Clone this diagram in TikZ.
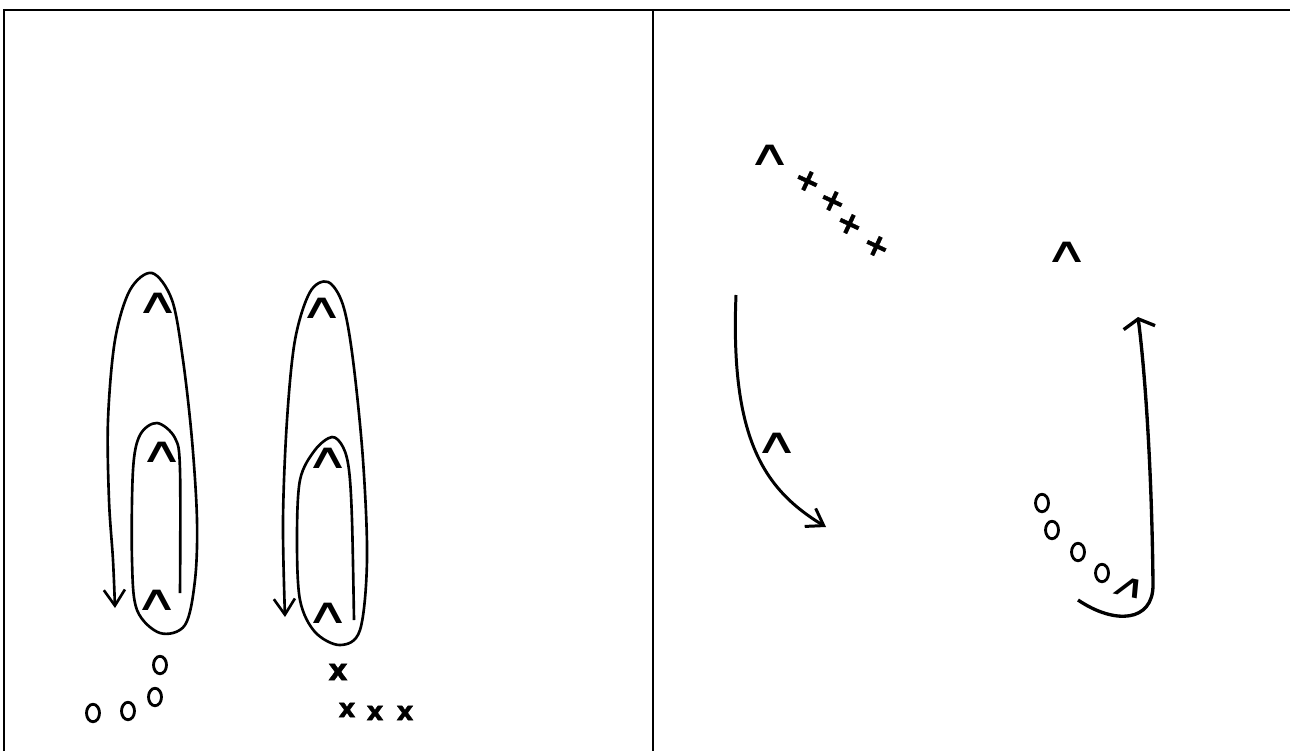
\documentclass[tikz,border=0pt]{standalone}
\usepackage{fontspec}
\newfontfamily\markfont[FakeBold=1.5]{DejaVu Sans}
\newfontfamily\hatfont{DejaVu Sans}
\newcommand\crossmark{\raisebox{0pt}[0.56em][-0.16em]{\makebox[0.45em]{+}}}
\usetikzlibrary{arrows.meta,shapes.geometric}
\begin{document}
\begin{tikzpicture}[x=0.02cm, y=-0.02cm, line width=1.5pt,
  frame/.style={line width=1.2pt},
  hat/.style={inner sep=0pt, xscale=1.4, yscale=0.8,
              font=\hatfont\fontsize{25}{25}\selectfont},
  att/.style={inner sep=0pt, font=\markfont\bfseries\fontsize{15}{15}\selectfont},
  plus/.style={inner sep=0pt, rotate=-25,
               font=\markfont\bfseries\fontsize{18}{18}\selectfont},
  man/.style={draw, ellipse, line width=1.6pt, minimum width=0.26cm,
              minimum height=0.35cm, inner sep=0pt},
  a/.style={-{Straight Barb[length=9pt,width=12pt]}},
  aw/.style={-{Straight Barb[length=5pt,width=18pt]}}]

  \useasboundingbox (0,0) rectangle (1290,751);

  % frame
  \draw[frame] (4,751) -- (4,10) -- (1290,10);
  \draw[frame] (653,11) -- (653,751);

  % left panel
  \node[hat] (h1) at (158,303) {∧};
  \node[hat] (h2) at (162,452) {∧};
  \node[hat] (h3) at (157,600) {∧};
  \node[hat] (h4) at (322,308) {∧};
  \node[hat] (h5) at (328,458) {∧};
  \node[hat] (h6) at (328,613) {∧};

  \node[man] (o1) at (160,665) {};
  \node[man] (o2) at (155,697) {};
  \node[man] (o3) at (93,713)  {};
  \node[man] (o4) at (128,711) {};

  \node[att, font=\markfont\bfseries\fontsize{17}{17}\selectfont] (x1) at (338,672) {x};
  \node[att] (x2) at (347,710) {x};
  \node[att] (x3) at (375,713) {x};
  \node[att] (x4) at (405,713) {x};

  \draw[a] plot[smooth, tension=0.55] coordinates {(180,593) (180,470) (175,438)
    (157,423) (140,435) (133,470) (132,560) (137,610) (160,633) (185,625)
    (195,580) (197,520) (192,440) (183,360) (172,300) (152,273) (130,290)
    (115,340) (108,420) (109,500) (113,560) (115,608)};
  \draw[a] plot[smooth, tension=0.55] coordinates {(354,620) (352,520) (349,470)
    (343,447) (332,437) (315,450) (300,480) (297,540) (300,600) (315,632)
    (340,645) (360,630) (367,560) (363,460) (353,360) (343,305) (328,282)
    (310,292) (295,340) (287,420) (283,520) (285,617)};

  % right panel
  \node[hat]  (h7)  at (770,155)  {∧};
  \node[plus] (p1)  at (807,182)  {\crossmark};
  \node[plus] (p2)  at (832,202)  {\crossmark};
  \node[plus] (p3)  at (849,225)  {\crossmark};
  \node[plus] (p4)  at (876,247)  {\crossmark};
  \node[hat]  (h8)  at (777,443)  {∧};
  \node[hat]  (h9)  at (1067,252) {∧};
  \node[hat, rotate=-20, font=\hatfont\fontsize{22}{22}\selectfont] (h10) at (1130,588) {∧};

  \node[man] (o5) at (1042,503) {};
  \node[man] (o6) at (1052,530) {};
  \node[man] (o7) at (1078,552) {};
  \node[man] (o8) at (1102,573) {};

  \coordinate (s1) at (736,295);
  \coordinate (e1) at (826,527);
  \coordinate (s2) at (1078,600);
  \coordinate (e2) at (1138,317);

  \draw[a, line width=1.7pt]  (s1) .. controls (730,440) and (765,490) .. (e1);
  \draw[aw, line width=1.9pt] (s2) .. controls (1115,625) and (1153,622) .. (1153,585)
                 .. controls (1152,480) and (1146,380) .. (e2);

\end{tikzpicture}
\end{document}
